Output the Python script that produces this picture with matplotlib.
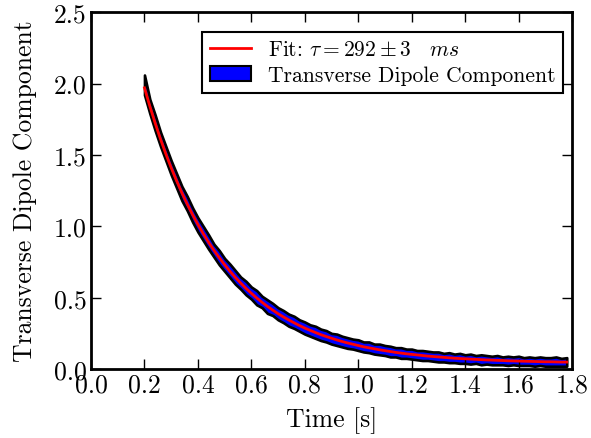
import matplotlib
matplotlib.use("Agg")
import matplotlib.pyplot as plt

plt.rcParams['font.family'] = 'serif'
plt.rcParams['font.serif'] = ['cmr10']
plt.rcParams['mathtext.fontset'] = 'cm'
plt.rcParams['axes.formatter.use_mathtext'] = True

time_s = [0.20 + 0.02 * k for k in range(80)]

signal_upper = [2.06, 1.89, 1.78, 1.66, 1.56, 1.46, 1.37, 1.28, 1.21, 1.13,
                1.06, 1.00, 0.94, 0.875, 0.83, 0.775, 0.735, 0.69, 0.645, 0.615,
                0.575, 0.55, 0.51, 0.485, 0.46, 0.43, 0.41, 0.385, 0.37, 0.345,
                0.33, 0.31, 0.30, 0.28, 0.27, 0.25, 0.245, 0.23, 0.22, 0.21,
                0.205, 0.19, 0.19, 0.175, 0.175, 0.165, 0.16, 0.15, 0.15, 0.14,
                0.14, 0.13, 0.13, 0.125, 0.12, 0.12, 0.11, 0.115, 0.105, 0.11,
                0.10, 0.105, 0.095, 0.10, 0.095, 0.09, 0.095, 0.085, 0.09, 0.085,
                0.09, 0.08, 0.085, 0.08, 0.085, 0.08, 0.08, 0.085, 0.075, 0.08]

signal_lower = [1.92, 1.79, 1.67, 1.56, 1.46, 1.36, 1.27, 1.18, 1.11, 1.03,
                0.96, 0.90, 0.84, 0.785, 0.73, 0.685, 0.64, 0.595, 0.56, 0.52,
                0.49, 0.45, 0.43, 0.39, 0.375, 0.345, 0.325, 0.30, 0.285, 0.265,
                0.245, 0.23, 0.215, 0.20, 0.19, 0.175, 0.165, 0.155, 0.145, 0.14,
                0.13, 0.12, 0.115, 0.105, 0.10, 0.095, 0.085, 0.085, 0.075, 0.075,
                0.07, 0.065, 0.06, 0.06, 0.055, 0.05, 0.05, 0.045, 0.045, 0.04,
                0.04, 0.035, 0.04, 0.03, 0.035, 0.03, 0.03, 0.03, 0.025, 0.03,
                0.025, 0.025, 0.025, 0.02, 0.025, 0.02, 0.02, 0.02, 0.02, 0.02]

fit_values = [1.970, 1.842, 1.723, 1.611, 1.507, 1.410, 1.320, 1.235, 1.156, 1.082,
              1.013, 0.949, 0.888, 0.832, 0.780, 0.731, 0.685, 0.642, 0.603, 0.565,
              0.531, 0.498, 0.468, 0.439, 0.413, 0.388, 0.365, 0.344, 0.324, 0.305,
              0.287, 0.271, 0.256, 0.241, 0.228, 0.216, 0.204, 0.193, 0.183, 0.174,
              0.165, 0.156, 0.149, 0.142, 0.135, 0.129, 0.123, 0.117, 0.112, 0.107,
              0.103, 0.099, 0.095, 0.091, 0.088, 0.085, 0.082, 0.079, 0.076, 0.074,
              0.072, 0.070, 0.068, 0.066, 0.064, 0.063, 0.061, 0.060, 0.058, 0.057,
              0.056, 0.055, 0.054, 0.053, 0.052, 0.051, 0.051, 0.050, 0.049, 0.049]

x_ticks = [0.0, 0.2, 0.4, 0.6, 0.8, 1.0, 1.2, 1.4, 1.6, 1.8]
y_ticks = [0.0, 0.5, 1.0, 1.5, 2.0, 2.5]

fig = plt.figure(figsize=(5.91, 4.39), dpi=100)
ax = fig.add_axes([0.154, 0.157, 0.814, 0.813])

band = ax.fill_between(time_s, signal_lower, signal_upper, facecolor='blue',
                       edgecolor='black', linewidth=1.9,
                       label='Transverse Dipole Component')
fit_line, = ax.plot(time_s, fit_values, color='red', linewidth=2,
                    label=r'Fit: $\tau = 292 \pm 3 \quad ms$')

ax.set_xlim(0, 1.8)
ax.set_ylim(0, 2.5)
ax.set_xticks(x_ticks)
ax.set_yticks(y_ticks)
ax.set_xticklabels([f'{v:.1f}' for v in x_ticks])
ax.set_yticklabels([f'{v:.1f}' for v in y_ticks])
ax.tick_params(direction='in', top=True, right=True, length=7, width=1,
               labelsize=18.5, pad=3)
for s in ax.spines.values():
    s.set_linewidth(2)

ax.set_xlabel('Time [s]', fontsize=18.5, labelpad=7)
ax.set_ylabel('Transverse Dipole Component', fontsize=18.5, labelpad=12)

leg = ax.legend([fit_line, band],
                [fit_line.get_label(), band.get_label()],
                loc='upper right', bbox_to_anchor=(0.981, 0.944),
                borderaxespad=0, fancybox=False, fontsize=15.5,
                handlelength=1.9, framealpha=1, borderpad=0.35,
                labelspacing=0.3)
leg.get_frame().set_edgecolor('black')
leg.get_frame().set_linewidth(1.5)
for h in leg.legend_handles:
    if h is not None and hasattr(h, 'set_edgecolor') and not hasattr(h, 'get_xdata'):
        h.set_linewidth(1.5)

fig.savefig('out.png', dpi=100)
